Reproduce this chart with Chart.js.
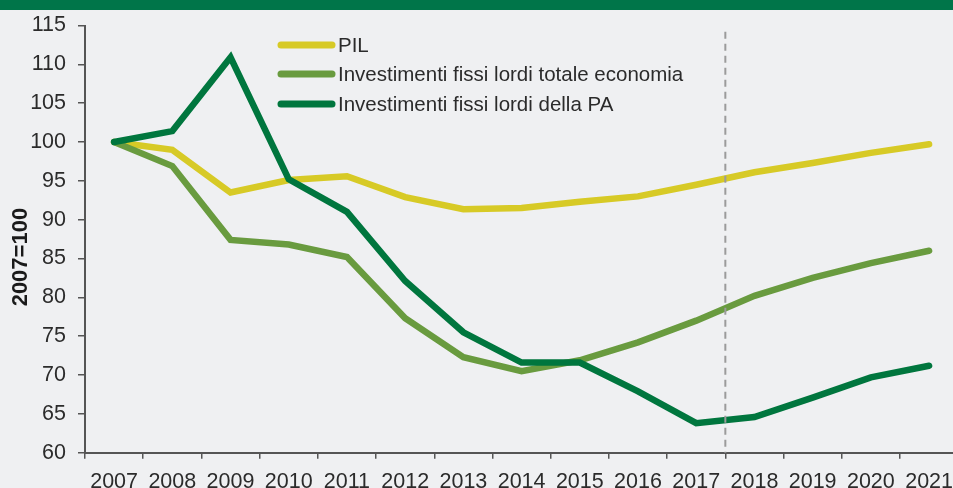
<!DOCTYPE html>
<html>
<head>
<meta charset="utf-8">
<script src="https://cdn.jsdelivr.net/npm/chart.js@4/dist/chart.umd.min.js"></script>
<style>
  html, body { margin: 0; padding: 0; background: #EFF0F2; overflow: hidden; width: 953px; height: 488px; }
  #wrap { position: relative; width: 953px; height: 488px; overflow: hidden; }
  #hdr { position: absolute; left: 0; top: 0; width: 953px; height: 10px; background: #007549; z-index: 2; }
  canvas { position: absolute; left: 0; top: 0; }
</style>
</head>
<body>
<div id="wrap">
  <div id="hdr"></div>
  <canvas id="c" width="963" height="488" style="width:963px;height:488px"></canvas>
</div>
<script>
const years = ['2007','2008','2009','2010','2011','2012','2013','2014','2015','2016','2017','2018','2019','2020','2021'];
const pil = [100, 99.0, 93.5, 95.1, 95.6, 92.9, 91.35, 91.5, 92.3, 93.0, 94.5, 96.1, 97.3, 98.6, 99.7];
const invTotale = [100, 96.9, 87.4, 86.8, 85.2, 77.3, 72.3, 70.5, 71.9, 74.2, 77.0, 80.2, 82.5, 84.4, 86.0];
const invPA = [100, 101.4, 110.9, 95.2, 91.0, 82.1, 75.5, 71.6, 71.6, 67.9, 63.8, 64.6, 67.1, 69.7, 71.2];
const seriesNames = ['PIL', 'Investimenti fissi lordi totale economia', 'Investimenti fissi lordi della PA'];
const yTitle = '2007=100';
const forecastStartIndex = 11; // dashed separator before 2018

const colors = ['#D7CA26', '#699B3F', '#00763E'];
const FONT = "'Liberation Sans', Arial, sans-serif";

const legendPlugin = {
  id: 'customLegend',
  afterDraw(chart) {
    const ctx = chart.ctx;
    const ca = chart.chartArea;
    const x0 = ca.left + 193;
    const rows = [19.5, 48.5, 78.5];
    ctx.save();
    chart.data.datasets.forEach((ds, i) => {
      const y = ca.top + rows[i];
      ctx.strokeStyle = ds.borderColor;
      ctx.lineWidth = 7;
      ctx.lineCap = 'round';
      ctx.beginPath();
      ctx.moveTo(x0 + 3, y);
      ctx.lineTo(x0 + 54, y);
      ctx.stroke();
      ctx.fillStyle = '#2b2b2b';
      ctx.font = "20.5px " + FONT;
      ctx.textBaseline = 'middle';
      ctx.textAlign = 'left';
      ctx.fillText(ds.label, x0 + 60, y + 1);
    });
    ctx.restore();
  }
};

const dashPlugin = {
  id: 'dashLine',
  afterDatasetsDraw(chart) {
    const xs = chart.scales.x, ys = chart.scales.y;
    const x = (xs.getPixelForValue(forecastStartIndex - 1) + xs.getPixelForValue(forecastStartIndex)) / 2;
    const ctx = chart.ctx;
    ctx.save();
    ctx.strokeStyle = '#9B9B9B';
    ctx.lineWidth = 2;
    ctx.setLineDash([7, 5]);
    ctx.beginPath();
    ctx.moveTo(x, ys.getPixelForValue(114.2));
    ctx.lineTo(x, ys.getPixelForValue(60));
    ctx.stroke();
    ctx.restore();
  }
};

const yTitlePlugin = {
  id: 'yTitle',
  afterDraw(chart) {
    const ca = chart.chartArea;
    const ctx = chart.ctx;
    ctx.save();
    ctx.translate(21, (ca.top + ca.bottom) / 2 + 18);
    ctx.rotate(-Math.PI / 2);
    ctx.font = "bold 22px " + FONT;
    ctx.fillStyle = '#1a1a1a';
    ctx.textAlign = 'center';
    ctx.textBaseline = 'middle';
    ctx.fillText(yTitle, 0, 0);
    ctx.restore();
  }
};

const series = [pil, invTotale, invPA];
new Chart(document.getElementById('c'), {
  type: 'line',
  data: {
    labels: years,
    datasets: series.map((d, i) => ({
      label: seriesNames[i],
      data: d,
      borderColor: colors[i],
      backgroundColor: colors[i],
      borderWidth: 6.5,
      pointRadius: 0,
      tension: 0,
      borderJoinStyle: 'miter',
      borderCapStyle: 'round',
      fill: false,
      order: 3 - i
    }))
  },
  options: {
    responsive: false,
    animation: false,
    devicePixelRatio: 1,
    layout: { padding: { left: 0, right: 0, top: 25.5, bottom: 0 } },
    plugins: { legend: { display: false }, tooltip: { enabled: false } },
    scales: {
      x: {
        offset: true,
        grid: { offset: true, drawOnChartArea: false, drawTicks: true, tickLength: 6, color: '#555', lineWidth: 1.5 },
        border: { color: '#555', width: 2 },
        ticks: { color: '#2b2b2b', font: { family: FONT, size: 21.5 }, padding: 10, maxRotation: 0, autoSkip: false },
        afterFit(scale) { scale.height = 35.3; }
      },
      y: {
        min: 60, max: 115,
        ticks: { stepSize: 5, color: '#2b2b2b', font: { family: FONT, size: 21.5 }, padding: 12 },
        grid: { drawOnChartArea: false, drawTicks: true, tickLength: 7, color: '#555', lineWidth: 1.5 },
        border: { color: '#555', width: 2 },
        afterFit(scale) { scale.width = 85; }
      }
    }
  },
  plugins: [dashPlugin, legendPlugin, yTitlePlugin]
});
</script>
</body>
</html>
